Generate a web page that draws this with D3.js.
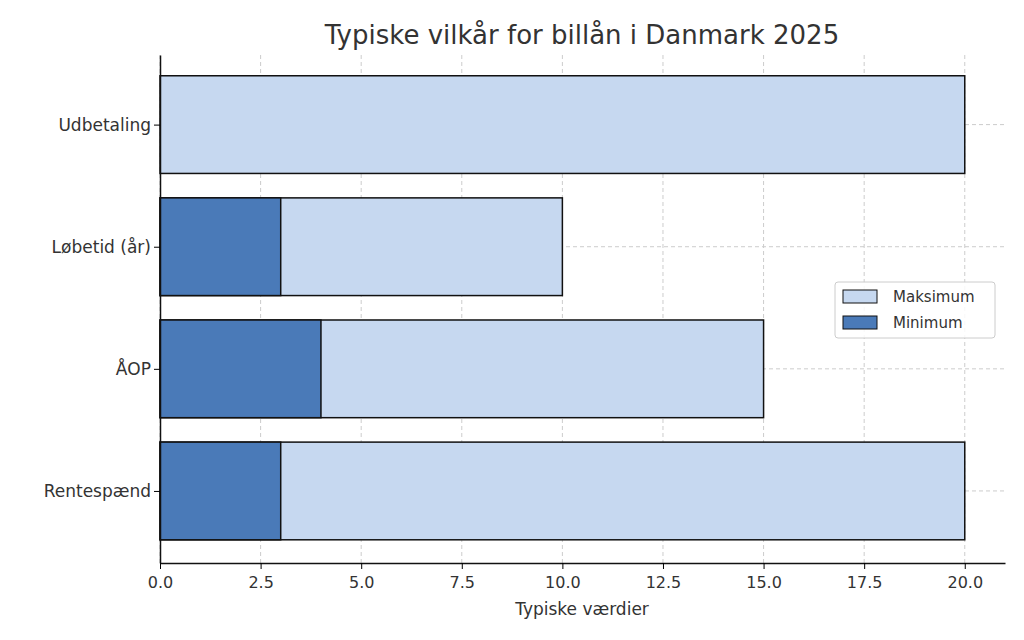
<!DOCTYPE html><html><head><meta charset="utf-8"><script src="https://cdn.jsdelivr.net/npm/d3@7"></script>
<style>body{margin:0;background:#fff}text{font-family:"DejaVu Sans",sans-serif;fill:#333}</style></head><body>
<svg id="c" width="1024" height="640"></svg>
<script>
const categories=["Rentespænd","ÅOP","Løbetid (år)","Udbetaling"];
const minimum=[3,4,3,0];
const maksimum=[20,15,10,20];
const xTicks=[0,2.5,5,7.5,10,12.5,15,17.5,20];
const svg=d3.select("#c");
const L=160,R=1005,T=55,B=563;
const x=d3.scaleLinear().domain([0,21]).range([L,R]);
const y=d3.scaleLinear().domain([-0.59,3.57]).range([B,T]);
const bh=y(0)-y(0.8);
const g=svg.append("g");
xTicks.forEach(t=>g.append("line").attr("x1",x(t)).attr("x2",x(t)).attr("y1",T).attr("y2",B).attr("stroke","#ccc").attr("stroke-dasharray","4,3"));
categories.forEach((c,i)=>g.append("line").attr("x1",L).attr("x2",R).attr("y1",y(i)).attr("y2",y(i)).attr("stroke","#ccc").attr("stroke-dasharray","4,3"));
svg.selectAll(".mx").data(maksimum).join("rect").attr("x",x(0)).attr("y",(d,i)=>y(i)-bh/2).attr("width",d=>x(d)-x(0)).attr("height",bh).attr("fill","#c6d8f0").attr("stroke","#111").attr("stroke-width",1.5);
svg.selectAll(".mn").data(minimum).join("rect").attr("x",x(0)).attr("y",(d,i)=>y(i)-bh/2).attr("width",d=>x(d)-x(0)).attr("height",bh).attr("fill","#4a7ab8").attr("stroke",d=>d>0?"#111":"none").attr("stroke-width",1.5);
svg.append("g").attr("transform",`translate(0,${B})`).call(d3.axisBottom(x).tickValues(xTicks).tickFormat(d3.format(".1f")).tickSizeOuter(0)).call(a=>{a.selectAll("text").attr("font-size",16).attr("dy","1em");a.select(".domain").attr("stroke","#111").attr("stroke-width",1.5)});
svg.append("g").attr("transform",`translate(${L},0)`).call(d3.axisLeft(y).tickValues([0,1,2,3]).tickFormat(i=>categories[i]).tickSizeOuter(0)).call(a=>{a.selectAll("text").attr("font-size",17);a.select(".domain").attr("stroke","#111").attr("stroke-width",1.5)});
svg.append("text").attr("x",582).attr("y",44).attr("text-anchor","middle").attr("font-size",26).text("Typiske vilkår for billån i Danmark 2025");
svg.append("text").attr("x",582).attr("y",615).attr("text-anchor","middle").attr("font-size",17).text("Typiske værdier");
const lg=svg.append("g").attr("transform","translate(835,282)");
lg.append("rect").attr("width",160).attr("height",56).attr("rx",3).attr("fill","#fff").attr("fill-opacity",0.85).attr("stroke","#ccc");
[["Maksimum","#c6d8f0"],["Minimum","#4a7ab8"]].forEach((d,i)=>{lg.append("rect").attr("x",8).attr("y",8+i*26).attr("width",34).attr("height",13).attr("fill",d[1]).attr("stroke","#111");lg.append("text").attr("x",58).attr("y",20+i*26).attr("font-size",15).text(d[0]);});
</script></body></html>
